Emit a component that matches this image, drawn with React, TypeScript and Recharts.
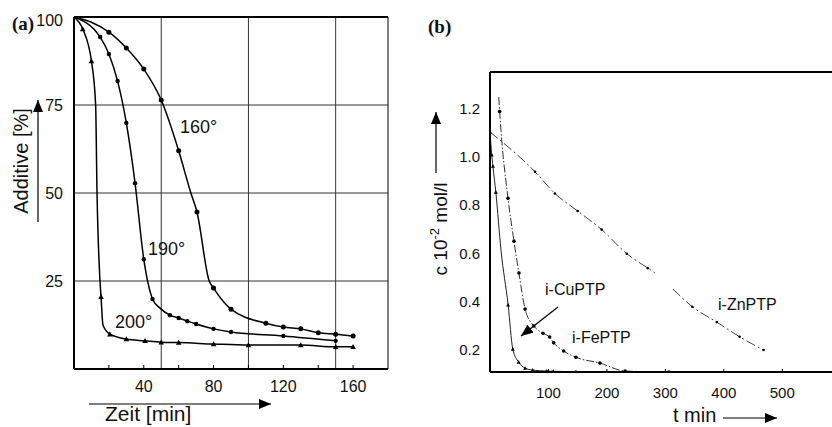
import React from "react";
import {
  ComposedChart,
  Line,
  Scatter,
  XAxis,
  YAxis,
  ReferenceLine,
} from "recharts";

// panel (a): Additive [%] vs Zeit [min]
const A_X_TICKS = [20, 30, 40, 60, 80, 100, 120, 140, 160];
const A_X_LABELS = [40, 80, 120, 160];
const A_Y_TICKS = [25, 50, 75, 100];
const A_GRID_X = [50, 100, 150];
const A_GRID_Y = [25, 50, 75];

// measured points [min, %]
const a160 = [[20, 95.7], [30, 91.2], [40, 85.2], [50, 76.4], [60, 62], [70.5, 44.6], [80, 23], [90, 17], [110, 13], [120, 11.9], [130, 11.4], [140, 10.3], [150, 9.9], [160, 9.4]];
const a190 = [[15, 94.3], [20, 89.5], [25, 81.8], [30, 69.9], [35, 52.8], [40, 31.2], [45, 19.9], [55, 15.3], [60, 14.5], [65, 13.6], [70, 12.8], [80, 11.4], [90, 10.5], [120, 9.4], [150, 8]];
const a200 = [[5, 96.6], [10, 87.5], [15.5, 20.5], [20.6, 9.9], [30, 8.5], [40.7, 8], [50, 7.6], [60, 7.5], [80, 7.1], [100, 6.8], [130, 6.8], [150, 6.3], [160, 6.3]];
// curve-only points
const a160Curve = [[0, 100], [10, 98.5], [67, 50], [77.5, 25]];
const a190Curve = [[0, 100], [49.3, 17.3]];
const a200Curve = [[0, 100], [12.4, 75], [13.2, 50], [14.9, 25], [16.6, 12.5]];

// panel (b): c 10^-2 mol/l vs t min
const B_X_TICKS = [100, 200, 300, 400, 500];
const B_Y_TICKS = [0.2, 0.4, 0.6, 0.8, 1.0, 1.2];
const B_X_DOMAIN = [0, 585];
const B_Y_DOMAIN = [0.109, 1.354];

const cuPts = [[0, 1.105], [3, 1.01], [5, 0.963], [10, 0.855], [31, 0.387], [39, 0.204], [49, 0.15], [60, 0.125], [73, 0.117], [97, 0.113], [108, 0.112], [147, 0.11]];
const cuCurve = [[18.8, 0.615]];
const fePts = [[16.5, 1.19], [30.8, 0.83], [41, 0.652], [49.5, 0.52], [60, 0.37], [75, 0.3], [90.6, 0.27], [102, 0.254], [109, 0.23], [126, 0.196], [147, 0.17], [188, 0.146], [231, 0.113], [306, 0.109]];
const feCurve = [[15, 1.25]];
const znPts = [[77, 0.94], [111, 0.85], [150, 0.777], [191, 0.7], [234, 0.6], [270, 0.54], [346, 0.38], [388, 0.316], [427, 0.255], [468, 0.2]];
const znCurve = [[0, 1.105], [282, 0.52], [313, 0.453]];
const ZN_GAP = [282, 313];

const FONT = "'Liberation Sans', Arial, sans-serif";

const toXY = (arr: number[][]) => arr.map(([x, y]) => ({ x, y }));
const curve = (pts: number[][], extra: number[][]) =>
  toXY([...pts, ...extra].sort((p, q) => p[0] - q[0]));

const dotShape = (r: number) => (p: any) => <circle cx={p.cx} cy={p.cy} r={r} fill="#000" />;
const triShape = (s: number) => (p: any) => (
  <polygon
    points={`${p.cx},${p.cy - s} ${p.cx - s},${p.cy + s * 0.8} ${p.cx + s},${p.cy + s * 0.8}`}
    fill="#000"
  />
);

function AXTick({ x, y, payload }: any) {
  const v = payload.value;
  return (
    <g>
      <line x1={x} x2={x} y1={y} y2={y - 4} stroke="#000" strokeWidth={1} />
      {A_X_LABELS.includes(v) && (
        <text x={x} y={y + 23} textAnchor="middle" fontSize={16} fontFamily={FONT} fill="#111">
          {v}
        </text>
      )}
    </g>
  );
}

function AYTick({ x, y, payload }: any) {
  return (
    <text x={x - 11} y={y + 6 + (payload.value === 100 ? 3 : 0)} textAnchor="end" fontSize={16} fontFamily={FONT} fill="#111">
      {payload.value}
    </text>
  );
}

function BXTick({ x, y, payload }: any) {
  return (
    <g>
      <line x1={x} x2={x} y1={y} y2={y - 3} stroke="#000" strokeWidth={1} />
      <text x={x} y={y + 26} textAnchor="middle" fontSize={15} fontFamily={FONT} fill="#111">
        {payload.value}
      </text>
    </g>
  );
}

function BYTick({ x, y, payload }: any) {
  return (
    <text x={x - 10} y={y + 5} textAnchor="end" fontSize={15} fontFamily={FONT} fill="#111">
      {payload.value.toFixed(1)}
    </text>
  );
}

function PanelA() {
  const lines = [
    { pts: a160, extra: a160Curve, shape: dotShape(2.5) },
    { pts: a190, extra: a190Curve, shape: dotShape(2.2) },
    { pts: a200, extra: a200Curve, shape: triShape(2.8) },
  ];
  return (
    <ComposedChart width={420} height={427} margin={{ top: 17, right: 32, bottom: 0, left: 0 }}>
      <XAxis
        type="number"
        dataKey="x"
        domain={[0, 180]}
        ticks={A_X_TICKS}
        tick={<AXTick />}
        tickSize={0}
        tickMargin={0}
        tickLine={false}
        height={58}
        axisLine={{ stroke: "#000", strokeWidth: 2 }}
        allowDataOverflow
      />
      <YAxis
        type="number"
        dataKey="y"
        domain={[0, 100]}
        ticks={A_Y_TICKS}
        tick={<AYTick />}
        tickSize={0}
        tickMargin={0}
        tickLine={false}
        width={74}
        axisLine={{ stroke: "#000", strokeWidth: 2 }}
        allowDataOverflow
      />
      {A_GRID_X.map((g) => (
        <ReferenceLine key={`gx${g}`} x={g} stroke="#333" strokeWidth={1} />
      ))}
      {A_GRID_Y.map((g) => (
        <ReferenceLine key={`gy${g}`} y={g} stroke="#333" strokeWidth={1} />
      ))}
      <ReferenceLine y={100} stroke="#000" strokeWidth={2} />
      <ReferenceLine x={180} stroke="#000" strokeWidth={1} />
      {lines.map((l, i) => (
        <Line
          key={`l${i}`}
          data={curve(l.pts, l.extra)}
          dataKey="y"
          type="monotone"
          stroke="#000"
          strokeWidth={1.5}
          dot={false}
          activeDot={false}
          isAnimationActive={false}
        />
      ))}
      {lines.map((l, i) => (
        <Scatter key={`s${i}`} data={toXY(l.pts)} dataKey="y" shape={l.shape} isAnimationActive={false} />
      ))}
    </ComposedChart>
  );
}

function PanelB() {
  const zn = curve(znPts, znCurve);
  return (
    <ComposedChart width={422} height={427} margin={{ top: 72, right: 0, bottom: 0, left: 0 }}>
      <XAxis
        type="number"
        dataKey="x"
        domain={B_X_DOMAIN}
        ticks={B_X_TICKS}
        tick={<BXTick />}
        tickSize={0}
        tickMargin={0}
        tickLine={false}
        height={55}
        axisLine={{ stroke: "#000", strokeWidth: 2 }}
        allowDataOverflow
      />
      <YAxis
        type="number"
        dataKey="y"
        domain={B_Y_DOMAIN}
        ticks={B_Y_TICKS}
        tick={<BYTick />}
        tickSize={0}
        tickMargin={0}
        tickLine={false}
        width={80}
        axisLine={{ stroke: "#000", strokeWidth: 2 }}
        allowDataOverflow
      />
      <ReferenceLine y={B_Y_DOMAIN[1]} stroke="#000" strokeWidth={2} />
      <Line
        data={curve(cuPts, cuCurve)}
        dataKey="y"
        type="monotone"
        stroke="#222"
        strokeWidth={1}
        dot={false}
        activeDot={false}
        isAnimationActive={false}
      />
      <Line
        data={curve(fePts, feCurve)}
        dataKey="y"
        type="monotone"
        stroke="#333"
        strokeWidth={1}
        strokeDasharray="8 2 1.5 2"
        dot={false}
        activeDot={false}
        isAnimationActive={false}
      />
      <Line
        data={zn.filter((p) => p.x <= ZN_GAP[0])}
        dataKey="y"
        type="monotone"
        stroke="#444"
        strokeWidth={1}
        strokeDasharray="10 3 2 3"
        dot={false}
        activeDot={false}
        isAnimationActive={false}
      />
      <Line
        data={zn.filter((p) => p.x >= ZN_GAP[1])}
        dataKey="y"
        type="monotone"
        stroke="#444"
        strokeWidth={1}
        strokeDasharray="10 3 2 3"
        dot={false}
        activeDot={false}
        isAnimationActive={false}
      />
      <Scatter data={toXY(cuPts)} dataKey="y" shape={triShape(2)} isAnimationActive={false} />
      <Scatter data={toXY(fePts)} dataKey="y" shape={dotShape(1.8)} isAnimationActive={false} />
      <Scatter data={toXY(znPts)} dataKey="y" shape={dotShape(1.3)} isAnimationActive={false} />
    </ComposedChart>
  );
}

function Overlay() {
  return (
    <svg width={832} height={427} style={{ position: "absolute", left: 0, top: 0, pointerEvents: "none" }}>
      <defs>
        <marker id="ah" markerUnits="userSpaceOnUse" markerWidth={12} markerHeight={10} refX={12} refY={5} orient="auto">
          <polygon points="0,0 12,5 0,10" fill="#000" />
        </marker>
      </defs>
      <g fontFamily={FONT} fill="#111">
        <text x={12} y={30} fontFamily="'Liberation Serif', 'Times New Roman', serif" fontWeight="bold" fontSize={19}>
          (a)
        </text>
        <text x={428} y={33} fontFamily="'Liberation Serif', 'Times New Roman', serif" fontWeight="bold" fontSize={19}>
          (b)
        </text>
        <text x={28} y={161} fontSize={20} textAnchor="middle" transform="rotate(-90 28 161)">
          Additive [%]
        </text>
        <line x1={38} y1={222} x2={38} y2={100} stroke="#000" strokeWidth={1.2} markerEnd="url(#ah)" />
        <text x={105} y={421} fontSize={21}>
          Zeit [min]
        </text>
        <line x1={89} y1={404} x2={271} y2={404} stroke="#000" strokeWidth={1.2} markerEnd="url(#ah)" />
        <text x={180} y={133} fontSize={18}>160°</text>
        <text x={148} y={255} fontSize={18}>190°</text>
        <text x={115} y={328} fontSize={18}>200°</text>

        <text x={447} y={229} fontSize={19} textAnchor="middle" transform="rotate(-90 447 229)">
          c 10
          <tspan fontSize={13} dy={-8}>-2</tspan>
          <tspan dy={8}> mol/l</tspan>
        </text>
        <line x1={436} y1={173} x2={436} y2={112} stroke="#000" strokeWidth={1.2} markerEnd="url(#ah)" />
        <text x={673} y={422} fontSize={20}>
          t min
        </text>
        <line x1={723} y1={418} x2={777} y2={418} stroke="#000" strokeWidth={1.2} markerEnd="url(#ah)" />
        <text x={545} y={295} fontSize={16}>i-CuPTP</text>
        <text x={572} y={343} fontSize={16}>i-FePTP</text>
        <text x={718} y={310} fontSize={16}>i-ZnPTP</text>
        <line x1={558} y1={307} x2={521} y2={336} stroke="#000" strokeWidth={1.2} markerEnd="url(#ah)" />
      </g>
    </svg>
  );
}

export default function App() {
  return (
    <div
      style={{
        position: "absolute",
        left: 0,
        top: 0,
        width: 832,
        height: 427,
        overflow: "hidden",
        background: "#fff",
        fontFamily: FONT,
      }}
    >
      <div style={{ position: "absolute", left: 0, top: 0 }}>
        <PanelA />
      </div>
      <div style={{ position: "absolute", left: 410, top: 0 }}>
        <PanelB />
      </div>
      <Overlay />
    </div>
  );
}
